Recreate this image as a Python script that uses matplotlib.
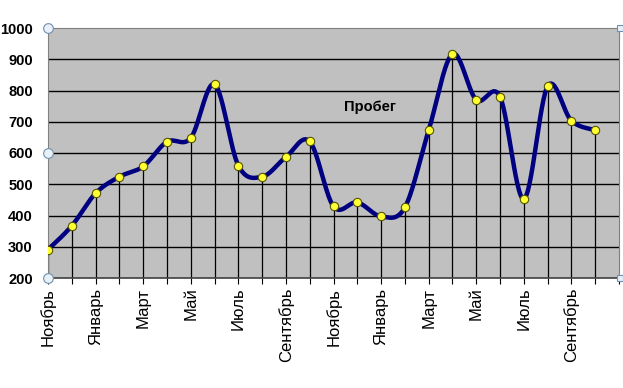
import numpy as np
import matplotlib
matplotlib.use("Agg")
import matplotlib.pyplot as plt

months = ["Ноябрь", "Декабрь", "Январь", "Февраль", "Март", "Апрель", "Май", "Июнь",
          "Июль", "Август", "Сентябрь", "Октябрь", "Ноябрь", "Декабрь", "Январь", "Февраль",
          "Март", "Апрель", "Май", "Июнь", "Июль", "Август", "Сентябрь", "Октябрь"]
values = [291, 367, 471, 524, 557, 636, 648, 820, 560, 524, 587, 637,
          429, 442, 397, 426, 673, 917, 770, 780, 453, 814, 703, 673]
title = "Пробег"
yticks = [200, 300, 400, 500, 600, 700, 800, 900, 1000]

plt.rcParams['font.family'] = ['Liberation Sans', 'DejaVu Sans']

fig = plt.figure(figsize=(6.23, 3.88), dpi=100)
ax = fig.add_axes([48/623, 1-278/388, 571/623, 250/388])
ax.set_facecolor("#C0C0C0")

x = np.arange(len(values))
y = np.array(values, dtype=float)

# Catmull-Rom smoothing (Excel-style smoothed line)
xs, ys = [], []
n = len(x)
for i in range(n - 1):
    p0 = np.array([x[max(i-1, 0)], y[max(i-1, 0)]])
    p1 = np.array([x[i], y[i]])
    p2 = np.array([x[i+1], y[i+1]])
    p3 = np.array([x[min(i+2, n-1)], y[min(i+2, n-1)]])
    c1 = p1 + (p2 - p0) / 6
    c2 = p2 - (p3 - p1) / 6
    t = np.linspace(0, 1, 30)[:, None]
    pts = (1-t)**3*p1 + 3*(1-t)**2*t*c1 + 3*(1-t)*t**2*c2 + t**3*p2
    xs.extend(pts[:, 0]); ys.extend(pts[:, 1])

ax.set_xlim(0, len(values))
ax.set_ylim(200, 1000)

for v in yticks[1:-1]:
    ax.axhline(v, color="black", lw=1.0, zorder=1)
ax.vlines(x, 200, y, color="black", lw=0.9, zorder=2)
ax.plot(xs, ys, color="#000080", lw=3.2, zorder=3, solid_capstyle="round")
ax.plot(x, y, "o", ms=6, mfc="#FFFF33", mec="#555500", mew=0.8, zorder=4)

ax.set_yticks(yticks)
ax.set_yticklabels([str(v) for v in yticks], fontsize=10.5, fontweight="bold")
ax.tick_params(axis="y", length=0, pad=11)

ax.set_xticks(np.arange(len(values) + 1), minor=True)
ax.set_xticks(x[::2])
ax.set_xticklabels(months[::2], rotation=90, fontsize=12)
ax.tick_params(axis="x", which="major", length=4, width=0.8, pad=3)
ax.tick_params(axis="x", which="minor", length=4, width=0.8)

for s in ["top", "right", "left"]:
    ax.spines[s].set_color("#808080")
    ax.spines[s].set_linewidth(0.8)
ax.spines["bottom"].set_color("#404040")
ax.spines["bottom"].set_linewidth(1.2)

ax.text(0.564, 0.684, title, transform=ax.transAxes, ha="center", va="center",
        fontsize=10.5, fontweight="bold")

# selection handles
for yy in [0, 0.5, 1]:
    ax.plot(0, yy, "o", ms=7, mfc="#E8F0F8", mec="#7090B0", mew=0.8,
            transform=ax.transAxes, clip_on=False, zorder=5)
for yy in [0, 1]:
    ax.plot(1.002, yy, "s", ms=5, mfc="#E8F0F8", mec="#7090B0", mew=0.8,
            transform=ax.transAxes, clip_on=False, zorder=5)

fig.savefig("out.png", dpi=100)
